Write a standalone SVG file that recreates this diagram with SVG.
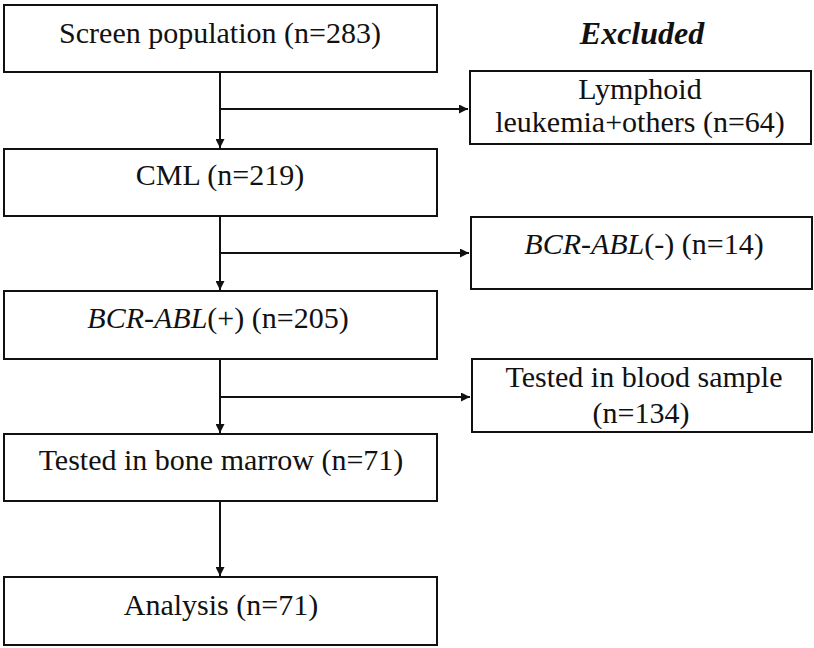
<svg xmlns="http://www.w3.org/2000/svg" width="814" height="648" viewBox="0 0 814 648">
<style>
.box{fill:#fff;stroke:#111;stroke-width:2}
.t{font-family:"Liberation Serif","Times New Roman",serif;font-size:30px;fill:#111;text-anchor:middle}
.i{font-style:italic}
.h{font-family:"Liberation Serif","Times New Roman",serif;font-size:32px;font-weight:bold;font-style:italic;fill:#111;text-anchor:middle}
.c{fill:none;stroke:#111;stroke-width:2}
</style>
<defs>
<marker id="ah" viewBox="0 0 10 10" refX="10" refY="5" markerWidth="10" markerHeight="9" markerUnits="userSpaceOnUse" orient="auto">
<path d="M0,0 L10,5 L0,10 z" fill="#111"/>
</marker>
</defs>
<rect width="814" height="648" fill="#fff"/>
<g id="connectors">
<line class="c" x1="220" y1="72" x2="220" y2="148" marker-end="url(#ah)"/>
<line class="c" x1="220" y1="109" x2="468" y2="109" marker-end="url(#ah)"/>
<line class="c" x1="220" y1="216" x2="220" y2="290" marker-end="url(#ah)"/>
<line class="c" x1="220" y1="253" x2="469" y2="253" marker-end="url(#ah)"/>
<line class="c" x1="220" y1="359" x2="220" y2="433" marker-end="url(#ah)"/>
<line class="c" x1="220" y1="397" x2="470" y2="397" marker-end="url(#ah)"/>
<line class="c" x1="220" y1="501" x2="220" y2="576" marker-end="url(#ah)"/>
</g>
<text id="excluded" class="h" x="642" y="44">Excluded</text>
<g id="screen">
<rect class="box" x="4" y="5" width="433" height="67"/>
<text class="t" x="220" y="43">Screen population (n=283)</text>
</g>
<g id="lymphoid">
<rect class="box" x="470" y="71" width="341" height="73"/>
<text class="t" x="640" y="99">Lymphoid</text>
<text class="t" x="640" y="132">leukemia+others (n=64)</text>
</g>
<g id="cml">
<rect class="box" x="4" y="149" width="433" height="67"/>
<text class="t" x="220" y="185">CML (n=219)</text>
</g>
<g id="bcrneg">
<rect class="box" x="471" y="217" width="341" height="72"/>
<text class="t" x="644" y="254"><tspan class="i">BCR-ABL</tspan>(-) (n=14)</text>
</g>
<g id="bcrpos">
<rect class="box" x="4" y="291" width="433" height="68"/>
<text class="t" x="218" y="328"><tspan class="i">BCR-ABL</tspan>(+) (n=205)</text>
</g>
<g id="blood">
<rect class="box" x="472" y="359" width="340" height="73"/>
<text class="t" x="644" y="387">Tested in blood sample</text>
<text class="t" x="641" y="423">(n=134)</text>
</g>
<g id="marrow">
<rect class="box" x="4" y="434" width="433" height="67"/>
<text class="t" x="221" y="470">Tested in bone marrow (n=71)</text>
</g>
<g id="analysis">
<rect class="box" x="4" y="577" width="433" height="68"/>
<text class="t" x="221" y="615">Analysis (n=71)</text>
</g>
</svg>
